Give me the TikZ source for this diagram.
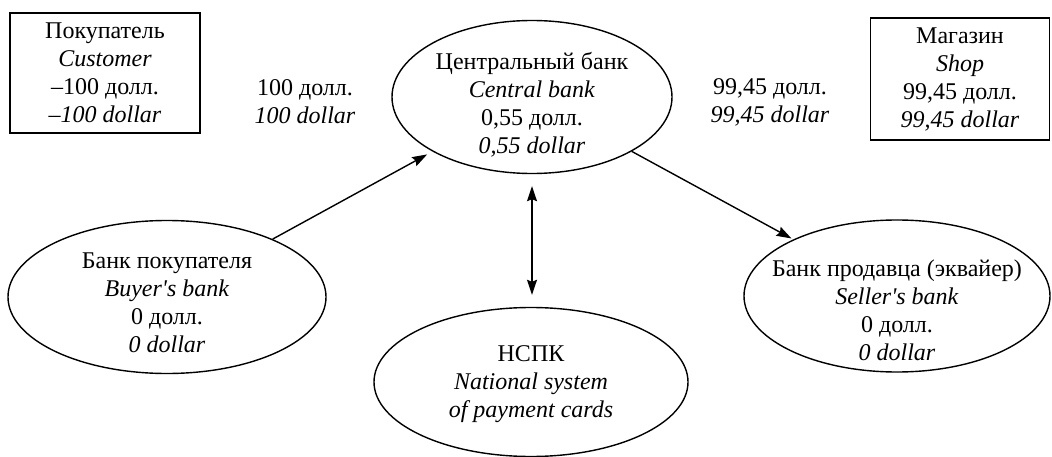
\documentclass[tikz,border=0pt]{standalone}
\usepackage{fontspec}
\setmainfont{Liberation Serif}[Ligatures=TeXOff]
\usetikzlibrary{arrows.meta, positioning, shapes.geometric}

\begin{document}
\begin{tikzpicture}[x=1pt, y=-1pt, ->, >={Stealth[length=15pt,width=10pt,inset=2pt]}, line width=1.4pt,
		every node/.style={align=center, font=\fontsize{24}{28}\selectfont},
		party/.style={rectangle, draw=black, line width=1.6pt},
		bank/.style={ellipse, draw=black, inner sep=0pt},
		banktext/.style={inner sep=0pt}]

		\useasboundingbox (0,0) rectangle (1052,457);

		\node[party, minimum width=190pt, minimum height=120pt] (Customer) at (105,73)
		{Покупатель \\ \textit{Customer} \\ –100 долл. \\ \textit{–100 dollar}};

		\node[party, minimum width=179pt, minimum height=122pt] (Shop) at (960,79)
		{Магазин \\ \textit{Shop} \\ 99,45 долл. \\ \textit{99,45 dollar}};

		% ellipses
		\node[bank, minimum width=280pt, minimum height=153pt] (CentralBank) at (532,97) {};
		\node[bank, minimum width=318pt, minimum height=153pt] (BuyerBank) at (167,297) {};
		\node[bank, minimum width=306pt, minimum height=152pt] (SellerBank) at (897,296) {};
		\node[bank, minimum width=314pt, minimum height=149pt] (NSPK) at (531,382) {};

		% texts in the ellipses
		\node[banktext, yshift=-8pt] (CentralText) at (CentralBank)
		{Центральный банк \\ \textit{Central bank} \\ 0,55 долл. \\ \textit{0,55 dollar}};
		\node[banktext, yshift=-6pt] (BuyerText) at (BuyerBank)
		{Банк покупателя \\ \textit{Buyer's bank} \\ 0 долл. \\ \textit{0 dollar}};
		\node[banktext, yshift=-14pt] (SellerText) at (SellerBank)
		{Банк продавца (эквайер) \\ \textit{Seller's bank} \\ 0 долл. \\ \textit{0 dollar}};
		\node[banktext, yshift=-2pt] (NSPKText) at (NSPK)
		{НСПК \\ \textit{National system} \\ \textit{of payment cards}};

		\node (PayIn) at (305,102) {100 долл. \\ \textit{100 dollar}};
		\node (PayOut) at (770,102) {99,45 долл. \\ \textit{99,45 dollar}};

		\draw[shorten >=6pt] (BuyerBank) -- (CentralBank);
		\draw[shorten >=2pt] (CentralBank) -- (SellerBank);
		\draw[<->, shorten >=12pt, shorten <=12pt] (CentralBank.south) -- (CentralBank.south |- NSPK.north);

	\end{tikzpicture}
\end{document}
